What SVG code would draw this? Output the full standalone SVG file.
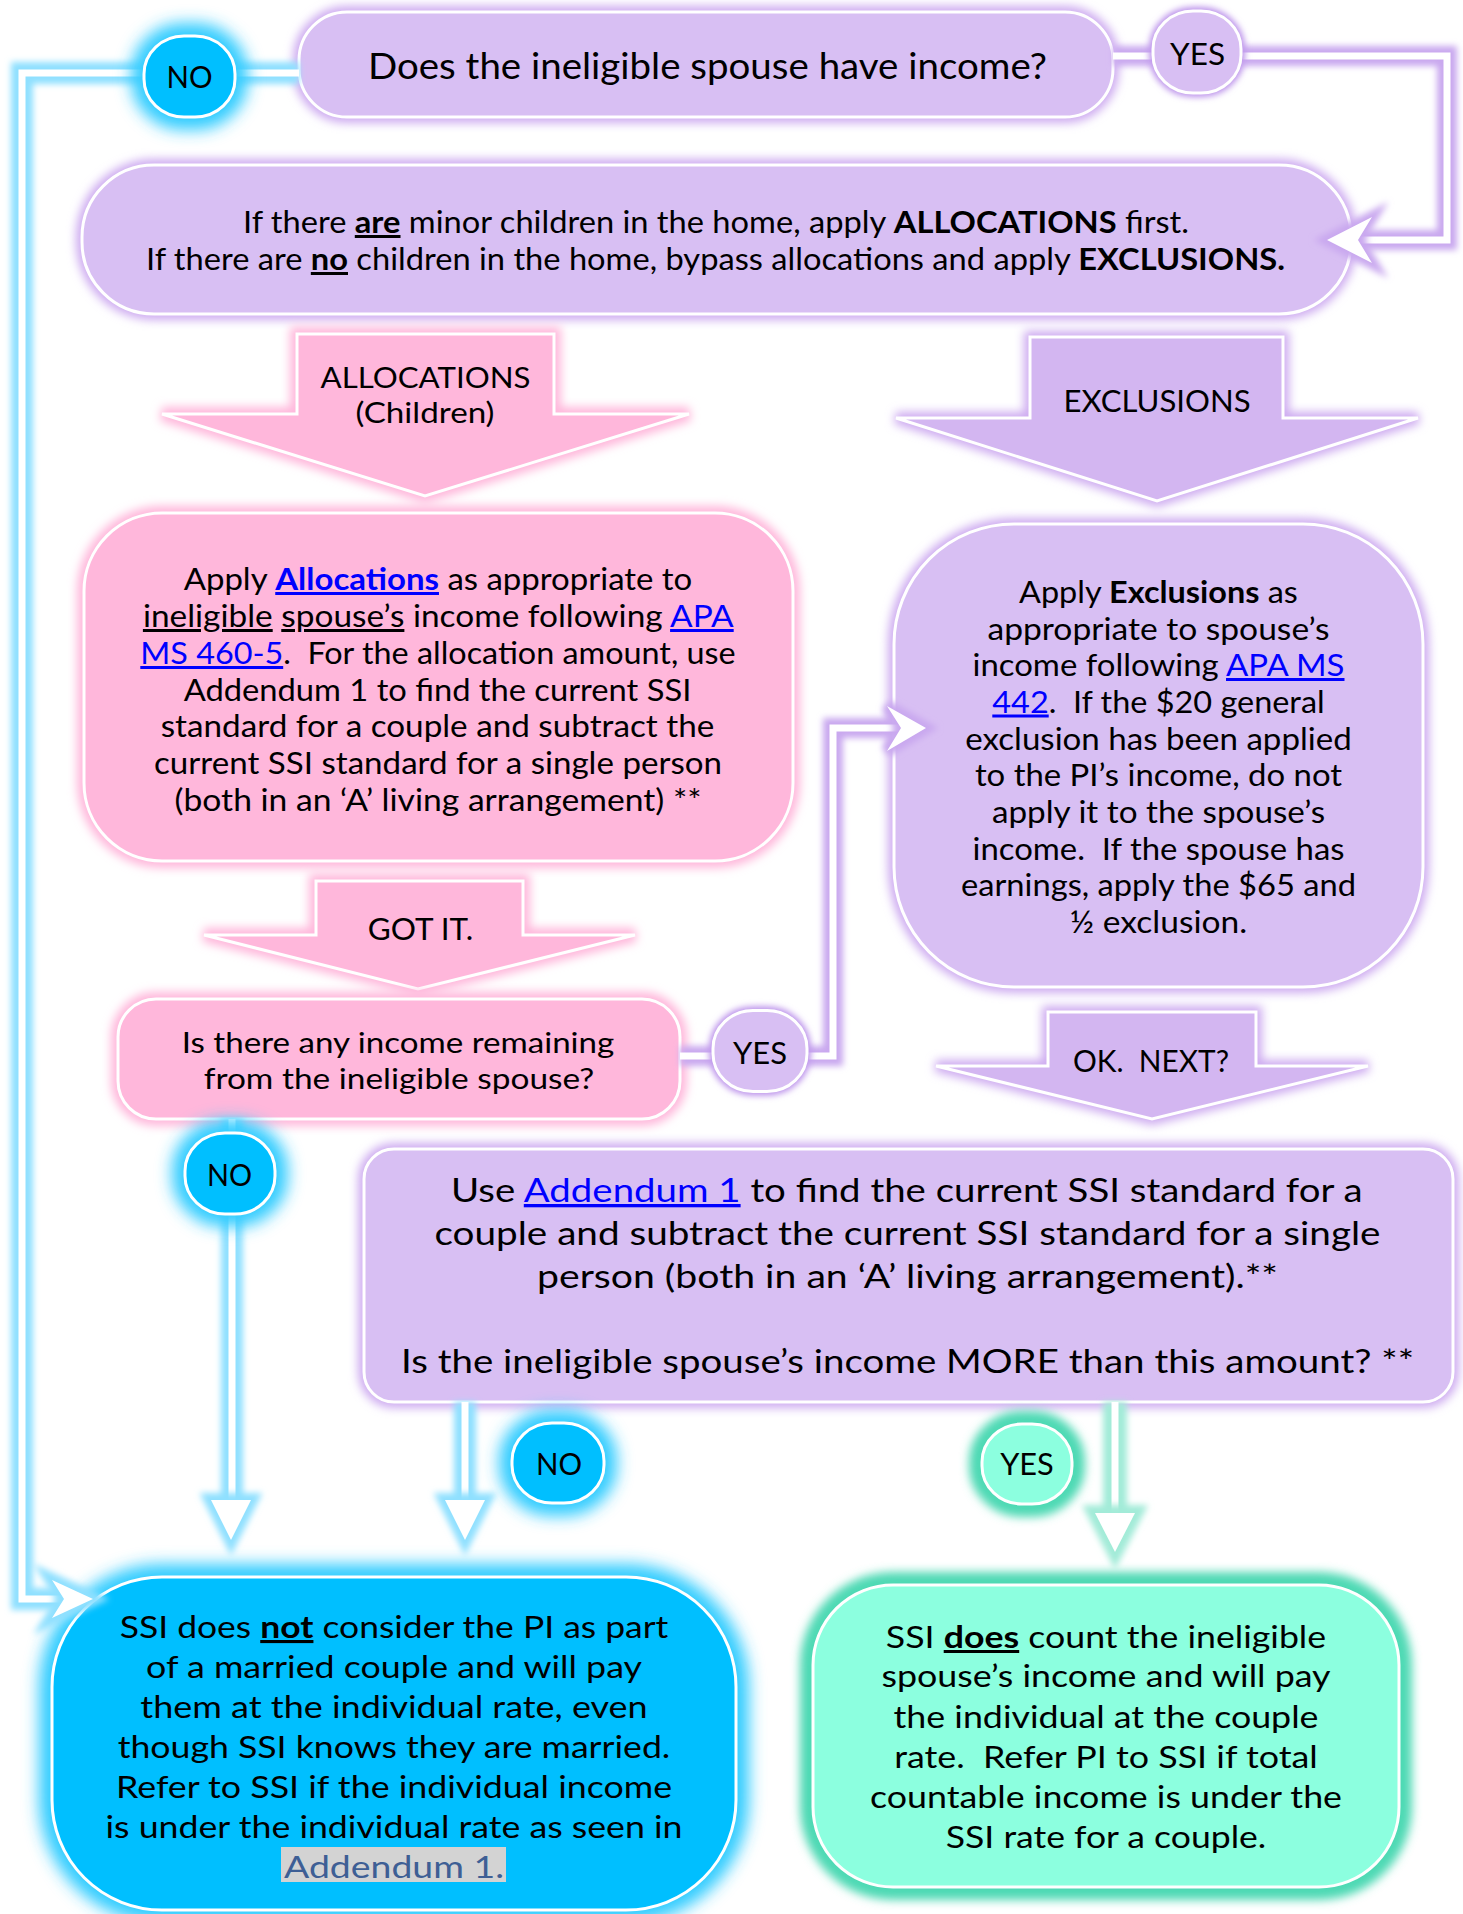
<svg xmlns="http://www.w3.org/2000/svg" width="1463" height="1914" viewBox="0 0 1463 1914">
  <defs>
    <filter id="blur3" filterUnits="userSpaceOnUse" x="0" y="0" width="1463" height="1914"><feGaussianBlur stdDeviation="3"/></filter>
    <filter id="blur5" filterUnits="userSpaceOnUse" x="0" y="0" width="1463" height="1914"><feGaussianBlur stdDeviation="5"/></filter>
    <filter id="blur8" filterUnits="userSpaceOnUse" x="0" y="0" width="1463" height="1914"><feGaussianBlur stdDeviation="8"/></filter>
    <style>
      .t { font-family: Lato, "Noto Sans", "Liberation Sans", sans-serif; fill: #000; text-anchor: middle; }
      .b { font-weight: 700; }
      .u { text-decoration: underline; }
      .lk { fill: #0000FF; text-decoration: underline; }
      .edge { stroke: #fff; stroke-width: 3; }
      .lav { fill: #D8BFF3; }
      .lav2 { fill: #D3B6F1; }
      .pink { fill: #FFB7DB; }
      .cyan { fill: #00BFFF; }
      .mint { fill: #8CFFDF; }
      .halo-lav { fill: #D3B6F1; stroke: #CDAAF0; stroke-width: 12; filter: url(#blur5); }
      .halo-lavd { fill: #B98EEA; stroke: #B98EEA; stroke-width: 8; filter: url(#blur3); }
      .halo-pink { fill: #FFB7DB; stroke: #FFB7DB; stroke-width: 14; filter: url(#blur5); }
      .halo-cyan { fill: #00BFFF; stroke: #33CCFF; stroke-width: 26; filter: url(#blur8); }
      .halo-mint { fill: #4ED9B4; stroke: #4ED9B4; stroke-width: 26; filter: url(#blur5); }
      .w-cyan { fill: none; stroke: #8FE0FF; stroke-width: 22; filter: url(#blur3); }
      .w-lav { fill: none; stroke: #C9A8EF; stroke-width: 20; filter: url(#blur3); }
      .w-mint { fill: none; stroke: #A2EBD8; stroke-width: 24; filter: url(#blur3); }
      .core { fill: none; stroke: #fff; stroke-width: 7; }
      .head { fill: #fff; }
      .hg-cyan { fill: #8FE0FF; stroke: #8FE0FF; stroke-width: 14; filter: url(#blur3); }
      .hg-lav { fill: #C9A8EF; stroke: #C9A8EF; stroke-width: 12; filter: url(#blur3); }
      .hg-mint { fill: #A2EBD8; stroke: #A2EBD8; stroke-width: 16; filter: url(#blur3); }
    </style>
  </defs>

  <rect width="1463" height="1914" fill="#fff"/>

  <!-- process boxes -->
  <g id="q-income">
    <rect class="halo-lav" x="299" y="12" width="814" height="105" rx="48"/>
    <rect class="lav edge" x="299" y="12" width="814" height="105" rx="48"/>
    <text class="t" x="707.5" y="79" font-size="36" textLength="679" lengthAdjust="spacingAndGlyphs">Does the ineligible spouse have income?</text>
  </g>

  <g id="children-check">
    <rect class="halo-lav" x="82" y="165" width="1269" height="149" rx="72"/>
    <rect class="lav edge" x="82" y="165" width="1269" height="149" rx="72"/>
    <text class="t" x="716" y="233" font-size="30" textLength="946" lengthAdjust="spacingAndGlyphs">If there <tspan class="b u">are</tspan> minor children in the home, apply <tspan class="b">ALLOCATIONS</tspan> first.</text>
    <text class="t" x="715.5" y="270" font-size="30" textLength="1139" lengthAdjust="spacingAndGlyphs">If there are <tspan class="b u">no</tspan> children in the home, bypass allocations and apply <tspan class="b">EXCLUSIONS.</tspan></text>
  </g>

  <g id="arrow-allocations">
    <polygon class="halo-pink" points="297,334 554,334 554,414 689,414 425,496 162,414 297,414"/>
    <polygon class="pink edge" points="297,334 554,334 554,414 689,414 425,496 162,414 297,414"/>
    <text class="t" x="425.5" y="388" font-size="29" textLength="210" lengthAdjust="spacingAndGlyphs">ALLOCATIONS</text>
    <text class="t" x="425" y="423" font-size="29" textLength="139" lengthAdjust="spacingAndGlyphs">(Children)</text>
  </g>

  <g id="arrow-exclusions">
    <polygon class="halo-lav" points="1030,337 1283,337 1283,418 1418,418 1157,501 896,418 1030,418"/>
    <polygon class="lav2 edge" points="1030,337 1283,337 1283,418 1418,418 1157,501 896,418 1030,418"/>
    <text class="t" x="1157" y="411.5" font-size="30" textLength="187" lengthAdjust="spacingAndGlyphs">EXCLUSIONS</text>
  </g>

  <g id="apply-allocations">
    <rect class="halo-pink" x="84" y="513" width="709" height="348" rx="78"/>
    <rect class="pink edge" x="84" y="513" width="709" height="348" rx="78"/>
    <text class="t" x="438" y="590" font-size="30" textLength="508.6" lengthAdjust="spacingAndGlyphs">Apply <tspan class="b lk">Allocations</tspan> as appropriate to</text>
    <text class="t" x="438.3" y="627" font-size="30" textLength="590.8" lengthAdjust="spacingAndGlyphs"><tspan class="u">ineligible</tspan> <tspan class="u">spouse’s</tspan> income following <tspan class="lk">APA</tspan></text>
    <text class="t" x="438" y="664" font-size="30" textLength="595.4" lengthAdjust="spacingAndGlyphs" xml:space="preserve"><tspan class="lk">MS 460-5</tspan>.  For the allocation amount, use</text>
    <text class="t" x="437.5" y="700.5" font-size="30" textLength="507.6" lengthAdjust="spacingAndGlyphs">Addendum 1 to find the current SSI</text>
    <text class="t" x="437.5" y="737" font-size="30" textLength="553.6" lengthAdjust="spacingAndGlyphs">standard for a couple and subtract the</text>
    <text class="t" x="438" y="774" font-size="30" textLength="568" lengthAdjust="spacingAndGlyphs">current SSI standard for a single person</text>
    <text class="t" x="438" y="811" font-size="30" textLength="527" lengthAdjust="spacingAndGlyphs">(both in an ‘A’ living arrangement) **</text>
  </g>

  <g id="apply-exclusions">
    <rect class="halo-lav" x="894" y="524" width="529" height="463" rx="120"/>
    <rect class="lav edge" x="894" y="524" width="529" height="463" rx="120"/>
    <text class="t" x="1158.5" y="603" font-size="30" textLength="278.8" lengthAdjust="spacingAndGlyphs">Apply <tspan class="b">Exclusions</tspan> as</text>
    <text class="t" x="1158.5" y="639.5" font-size="30" textLength="342" lengthAdjust="spacingAndGlyphs">appropriate to spouse’s</text>
    <text class="t" x="1158.5" y="676" font-size="30" textLength="372" lengthAdjust="spacingAndGlyphs">income following <tspan class="lk">APA MS</tspan></text>
    <text class="t" x="1158.5" y="712.5" font-size="30" textLength="332.4" lengthAdjust="spacingAndGlyphs" xml:space="preserve"><tspan class="lk">442</tspan>.  If the $20 general</text>
    <text class="t" x="1158.5" y="749.5" font-size="30" textLength="386.4" lengthAdjust="spacingAndGlyphs">exclusion has been applied</text>
    <text class="t" x="1158.5" y="786" font-size="30" textLength="367.2" lengthAdjust="spacingAndGlyphs">to the PI’s income, do not</text>
    <text class="t" x="1158.5" y="823" font-size="30" textLength="333.2" lengthAdjust="spacingAndGlyphs">apply it to the spouse’s</text>
    <text class="t" x="1158.5" y="859.5" font-size="30" textLength="372" lengthAdjust="spacingAndGlyphs" xml:space="preserve">income.  If the spouse has</text>
    <text class="t" x="1158.5" y="896" font-size="30" textLength="395" lengthAdjust="spacingAndGlyphs">earnings, apply the $65 and</text>
    <text class="t" x="1158.5" y="932.5" font-size="30" textLength="177.3" lengthAdjust="spacingAndGlyphs">½ exclusion.</text>
  </g>

  <g id="arrow-got-it">
    <polygon class="halo-pink" points="316,881 523,881 523,935 635,935 418,989 204,935 316,935"/>
    <polygon class="pink edge" points="316,881 523,881 523,935 635,935 418,989 204,935 316,935"/>
    <text class="t" x="420.5" y="940" font-size="30" textLength="105.6" lengthAdjust="spacingAndGlyphs">GOT IT.</text>
  </g>

  <g id="q-remaining">
    <rect class="halo-pink" x="118" y="999" width="562" height="120" rx="38"/>
    <rect class="pink edge" x="118" y="999" width="562" height="120" rx="38"/>
    <text class="t" x="398" y="1053" font-size="29" textLength="432.5" lengthAdjust="spacingAndGlyphs">Is there any income remaining</text>
    <text class="t" x="399" y="1089" font-size="29" textLength="390.6" lengthAdjust="spacingAndGlyphs">from the ineligible spouse?</text>
  </g>

  <g id="arrow-ok-next">
    <polygon class="halo-lav" points="1048,1012 1256,1012 1256,1066 1368,1066 1152,1119 936,1066 1048,1066"/>
    <polygon class="lav2 edge" points="1048,1012 1256,1012 1256,1066 1368,1066 1152,1119 936,1066 1048,1066"/>
    <text class="t" x="1151" y="1072" font-size="30" textLength="156" lengthAdjust="spacingAndGlyphs" xml:space="preserve">OK.  NEXT?</text>
  </g>

  <g id="q-more-than">
    <rect class="halo-lav" x="364" y="1149" width="1089" height="253" rx="30"/>
    <rect class="lav edge" x="364" y="1149" width="1089" height="253" rx="30"/>
    <text class="t" x="906.8" y="1202" font-size="33" textLength="911.5" lengthAdjust="spacingAndGlyphs">Use <tspan class="lk">Addendum 1</tspan> to find the current SSI standard for a</text>
    <text class="t" x="907.5" y="1245" font-size="33" textLength="946" lengthAdjust="spacingAndGlyphs">couple and subtract the current SSI standard for a single</text>
    <text class="t" x="907.5" y="1288" font-size="33" textLength="741" lengthAdjust="spacingAndGlyphs">person (both in an ‘A’ living arrangement).**</text>
    <text class="t" x="907.5" y="1373" font-size="33" textLength="1013" lengthAdjust="spacingAndGlyphs">Is the ineligible spouse’s income MORE than this amount? **</text>
  </g>

  <g id="result-individual">
    <rect class="halo-cyan" x="52" y="1577" width="684" height="333" rx="110"/>
    <rect class="cyan edge" x="52" y="1577" width="684" height="333" rx="110"/>
    <text class="t" x="394" y="1638" font-size="31" textLength="548.6" lengthAdjust="spacingAndGlyphs">SSI does <tspan class="b u">not</tspan> consider the PI as part</text>
    <text class="t" x="394" y="1678" font-size="31" textLength="495.9" lengthAdjust="spacingAndGlyphs">of a married couple and will pay</text>
    <text class="t" x="394" y="1718" font-size="31" textLength="507.3" lengthAdjust="spacingAndGlyphs">them at the individual rate, even</text>
    <text class="t" x="394" y="1758" font-size="31" textLength="552.6" lengthAdjust="spacingAndGlyphs">though SSI knows they are married.</text>
    <text class="t" x="394" y="1798" font-size="31" textLength="556.1" lengthAdjust="spacingAndGlyphs">Refer to SSI if the individual income</text>
    <text class="t" x="394" y="1838" font-size="31" textLength="577" lengthAdjust="spacingAndGlyphs">is under the individual rate as seen in</text>
    <rect x="281" y="1847" width="225" height="35" fill="#D3D3D3"/>
    <text class="t" x="394" y="1878" font-size="31" textLength="220" lengthAdjust="spacingAndGlyphs" style="fill:#3E5F95">Addendum 1.</text>
  </g>

  <g id="result-couple">
    <rect class="halo-mint" x="813" y="1585" width="586" height="302" rx="80"/>
    <rect class="mint edge" x="813" y="1585" width="586" height="302" rx="80"/>
    <text class="t" x="1106" y="1648" font-size="30" textLength="440.3" lengthAdjust="spacingAndGlyphs">SSI <tspan class="b u">does</tspan> count the ineligible</text>
    <text class="t" x="1106" y="1687" font-size="30" textLength="449.2" lengthAdjust="spacingAndGlyphs">spouse’s income and will pay</text>
    <text class="t" x="1106" y="1728" font-size="30" textLength="425" lengthAdjust="spacingAndGlyphs">the individual at the couple</text>
    <text class="t" x="1106" y="1768" font-size="30" textLength="423.6" lengthAdjust="spacingAndGlyphs" xml:space="preserve">rate.  Refer PI to SSI if total</text>
    <text class="t" x="1106" y="1808" font-size="30" textLength="472" lengthAdjust="spacingAndGlyphs">countable income is under the</text>
    <text class="t" x="1106" y="1848" font-size="30" textLength="320.5" lengthAdjust="spacingAndGlyphs">SSI rate for a couple.</text>
  </g>

  <!-- connectors: coloured halo under a white core -->
  <g id="connectors">
    <!-- NO from the first question, round the left side into the individual-rate result -->
    <path class="w-cyan" d="M299,73 H235 M144,73 H22 V1599 H66"/>
    <path class="core" d="M299,73 H235 M144,73 H22 V1599 H66"/>
    <polygon class="hg-cyan" points="93,1599 52,1580 64,1599 52,1618"/>
    <polygon class="head" points="93,1599 52,1580 64,1599 52,1618"/>

    <!-- NO from the remaining-income question -->
    <path class="w-cyan" d="M232,1119 V1133 M232,1214 V1502"/>
    <path class="core" d="M232,1119 V1133 M232,1214 V1502"/>
    <polygon class="hg-cyan" points="211,1500 251,1500 231,1540"/>
    <polygon class="head" points="211,1500 251,1500 231,1540"/>

    <!-- NO from the comparison question -->
    <path class="w-cyan" d="M465,1402 V1502"/>
    <path class="core" d="M465,1402 V1502"/>
    <polygon class="hg-cyan" points="445,1500 485,1500 465,1540"/>
    <polygon class="head" points="445,1500 485,1500 465,1540"/>

    <!-- YES from the first question into the children check -->
    <path class="w-lav" d="M1113,56 H1153 M1241,56 H1447 V240 H1358"/>
    <path class="core" d="M1113,56 H1153 M1241,56 H1447 V240 H1358"/>
    <polygon class="hg-lav" points="1327,240 1372,217 1358,240 1372,263"/>
    <polygon class="head" points="1327,240 1372,217 1358,240 1372,263"/>

    <!-- YES from the remaining-income question into exclusions -->
    <path class="w-lav" d="M680,1056 H713 M807,1056 H833 V728 H902"/>
    <path class="core" d="M680,1056 H713 M807,1056 H833 V728 H902"/>
    <polygon class="hg-lav" points="926,728 887,706 901,728 887,751"/>
    <polygon class="head" points="926,728 887,706 901,728 887,751"/>

    <!-- YES from the comparison question -->
    <path class="w-mint" d="M1115,1402 V1515"/>
    <path class="core" d="M1115,1402 V1515"/>
    <polygon class="hg-mint" points="1095,1513 1135,1513 1115,1552"/>
    <polygon class="head" points="1095,1513 1135,1513 1115,1552"/>
  </g>

  <!-- decision labels -->
  <g id="lbl-no-1">
    <rect class="halo-cyan" x="144" y="36" width="91" height="81" rx="40" ry="38"/>
    <rect class="cyan edge" x="144" y="36" width="91" height="81" rx="40" ry="38"/>
    <text class="t" x="189.5" y="88" font-size="30" textLength="46" lengthAdjust="spacingAndGlyphs">NO</text>
  </g>
  <g id="lbl-yes-1">
    <rect class="halo-lavd" x="1153" y="11" width="88" height="82" rx="40" ry="38"/>
    <rect class="lav edge" x="1153" y="11" width="88" height="82" rx="40" ry="38"/>
    <text class="t" x="1197.5" y="65" font-size="30" textLength="55" lengthAdjust="spacingAndGlyphs">YES</text>
  </g>
  <g id="lbl-yes-2">
    <rect class="halo-lavd" x="713" y="1010.5" width="94" height="81" rx="40" ry="38"/>
    <rect class="lav edge" x="713" y="1010.5" width="94" height="81" rx="40" ry="38"/>
    <text class="t" x="760" y="1064" font-size="30" textLength="54" lengthAdjust="spacingAndGlyphs">YES</text>
  </g>
  <g id="lbl-no-2">
    <rect class="halo-cyan" x="185" y="1133" width="90" height="81" rx="40" ry="38"/>
    <rect class="cyan edge" x="185" y="1133" width="90" height="81" rx="40" ry="38"/>
    <text class="t" x="229.5" y="1186" font-size="30" textLength="45" lengthAdjust="spacingAndGlyphs">NO</text>
  </g>
  <g id="lbl-no-3">
    <rect class="halo-cyan" x="512" y="1423" width="92" height="80" rx="40" ry="38"/>
    <rect class="cyan edge" x="512" y="1423" width="92" height="80" rx="40" ry="38"/>
    <text class="t" x="559" y="1475" font-size="30" textLength="46" lengthAdjust="spacingAndGlyphs">NO</text>
  </g>
  <g id="lbl-yes-3">
    <rect class="halo-mint" x="982" y="1424" width="90" height="80" rx="40" ry="38"/>
    <rect class="mint edge" x="982" y="1424" width="90" height="80" rx="40" ry="38"/>
    <text class="t" x="1027" y="1475" font-size="30" textLength="53.6" lengthAdjust="spacingAndGlyphs">YES</text>
  </g>
</svg>
